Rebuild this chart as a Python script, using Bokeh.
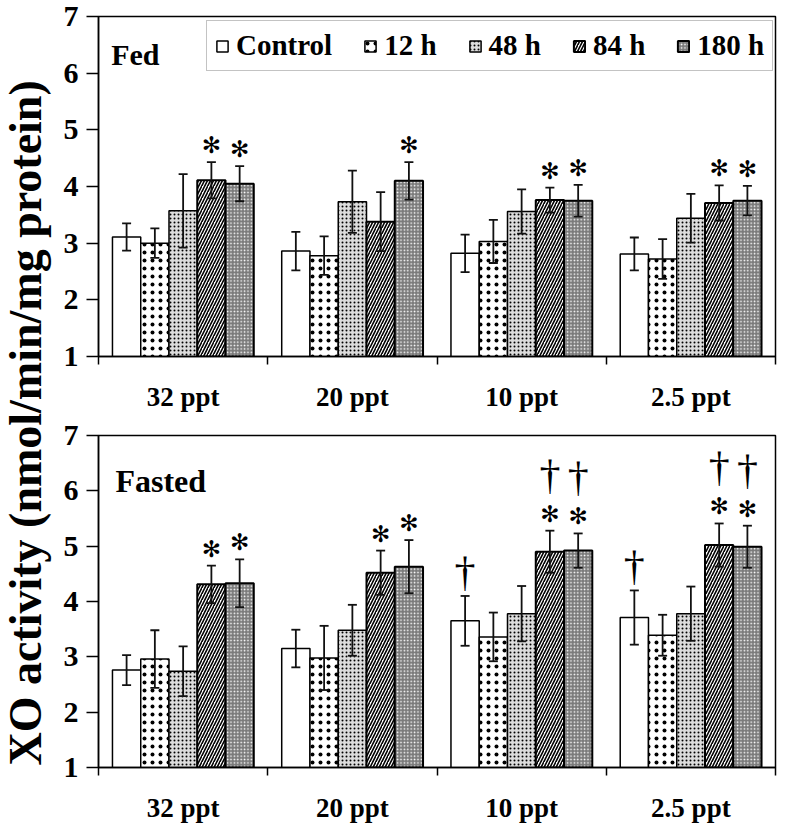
import math
from bokeh.plotting import figure
from bokeh.models import (Range1d, FixedTicker, Whisker, TeeHead, ColumnDataSource,
                          Legend, LegendItem, Label)
from bokeh.layouts import row, column
from bokeh.embed import file_html
from bokeh.resources import INLINE
from bokeh.core.properties import value

# ---------------- data ----------------
groups = ["32 ppt", "20 ppt", "10 ppt", "2.5 ppt"]
series = ["Control", "12 h", "48 h", "84 h", "180 h"]
y_ticks = [1, 2, 3, 4, 5, 6, 7]

fed_control = [3.11, 2.86, 2.82, 2.81]
fed_12h = [3.00, 2.78, 3.03, 2.72]
fed_48h = [3.57, 3.73, 3.56, 3.44]
fed_84h = [4.11, 3.38, 3.76, 3.71]
fed_180h = [4.05, 4.10, 3.75, 3.75]

fed_err_control = [0.24, 0.34, 0.33, 0.29]
fed_err_12h = [0.26, 0.34, 0.38, 0.35]
fed_err_48h = [0.65, 0.55, 0.39, 0.43]
fed_err_84h = [0.32, 0.52, 0.22, 0.31]
fed_err_180h = [0.31, 0.33, 0.28, 0.26]

fed_star_control = [0, 0, 0, 0]
fed_star_12h = [0, 0, 0, 0]
fed_star_48h = [0, 0, 0, 0]
fed_star_84h = [1, 0, 1, 1]
fed_star_180h = [1, 1, 1, 1]

fasted_control = [2.76, 3.15, 3.65, 3.71]
fasted_12h = [2.96, 2.98, 3.36, 3.39]
fasted_48h = [2.74, 3.48, 3.78, 3.78]
fasted_84h = [4.31, 4.52, 4.90, 5.02]
fasted_180h = [4.33, 4.63, 4.92, 4.99]

fasted_err_control = [0.27, 0.34, 0.45, 0.49]
fasted_err_12h = [0.52, 0.58, 0.44, 0.37]
fasted_err_48h = [0.45, 0.46, 0.50, 0.49]
fasted_err_84h = [0.34, 0.40, 0.38, 0.39]
fasted_err_180h = [0.43, 0.48, 0.31, 0.38]

fasted_star_control = [0, 0, 0, 0]
fasted_star_12h = [0, 0, 0, 0]
fasted_star_48h = [0, 0, 0, 0]
fasted_star_84h = [1, 1, 1, 1]
fasted_star_180h = [1, 1, 1, 1]

fasted_dagger_control = [0, 0, 1, 1]
fasted_dagger_12h = [0, 0, 0, 0]
fasted_dagger_48h = [0, 0, 0, 0]
fasted_dagger_84h = [0, 0, 1, 1]
fasted_dagger_180h = [0, 0, 1, 1]

# ---------------- styles ----------------
SERIF = "Liberation Serif"
styles = [
    dict(fill_color="white", hatch_pattern=None, line_width=1.5),
    dict(fill_color="white", hatch_pattern="dot", hatch_color="black",
         hatch_scale=8, hatch_weight=0.8, line_width=1.5),
    dict(fill_color="#dcdcdc", hatch_pattern="dot", hatch_color="black",
         hatch_scale=4, hatch_weight=1.0, line_width=1.5),
    dict(fill_color="white", hatch_pattern="right_diagonal_line", hatch_color="black",
         hatch_scale=6, hatch_weight=1.6, line_width=2),
    dict(fill_color="#7a7a7a", hatch_pattern="dot", hatch_color="white",
         hatch_scale=3.4, hatch_weight=1.5, line_width=2),
]

BAR_W = 0.167
TITLE_W = 52
PANEL_W = 777 - TITLE_W


def make_panel(vals, errs, stars, daggers, name, name_size, height, top_border,
               bottom_border, label_y, label_x, with_legend):
    p = figure(width=PANEL_W, height=height, output_backend="svg", toolbar_location=None,
               x_range=Range1d(0, 4), y_range=Range1d(1, 7),
               min_border_left=98 - TITLE_W, min_border_right=2,
               min_border_top=top_border, min_border_bottom=bottom_border)
    p.xgrid.visible = False
    p.ygrid.visible = False
    p.outline_line_color = "black"
    p.outline_line_width = 1.5
    p.background_fill_color = "white"
    p.border_fill_color = "white"

    # axes
    p.xaxis.ticker = FixedTicker(ticks=[0.5, 1.5, 2.5, 3.5], minor_ticks=[0, 1, 2, 3, 4])
    p.xaxis.major_label_overrides = {0.5: groups[0], 1.5: groups[1], 2.5: groups[2], 3.5: groups[3]}
    p.xaxis.major_tick_out = 0
    p.xaxis.major_tick_in = 0
    p.xaxis.minor_tick_out = 8
    p.xaxis.minor_tick_in = 0
    p.xaxis.minor_tick_line_width = 1.5
    p.xaxis.major_label_standoff = 17
    p.yaxis.ticker = FixedTicker(ticks=y_ticks, minor_ticks=[])
    p.yaxis.major_tick_out = 12
    p.yaxis.major_tick_in = 0
    p.yaxis.major_tick_line_width = 1.5
    p.yaxis.major_label_standoff = 8
    for ax in (p.xaxis, p.yaxis):
        ax.axis_line_width = 1.5
        ax.axis_line_color = "black"
        ax.major_tick_line_color = "black"
        ax.minor_tick_line_color = "black"
        ax.major_label_text_font = SERIF
        ax.major_label_text_font_style = "bold"
        ax.major_label_text_color = "black"
    p.xaxis.major_label_text_font_size = "27px"
    p.yaxis.major_label_text_font_size = "30px"

    items = []
    for j, (v, e, st) in enumerate(zip(vals, errs, styles)):
        xs = [i + 0.5 + (j - 2) * BAR_W for i in range(len(groups))]
        src = ColumnDataSource(dict(x=xs, top=v, upper=[a + b for a, b in zip(v, e)],
                                    lower=[a - b for a, b in zip(v, e)]))
        kw = dict(st)
        hp = kw.pop("hatch_pattern")
        if hp is not None:
            kw["hatch_pattern"] = hp
        r = p.vbar(x="x", top="top", bottom=1, width=BAR_W, source=src,
                   line_color="black", **kw)
        items.append(LegendItem(label=series[j], renderers=[r]))
        w = Whisker(base="x", upper="upper", lower="lower", source=src,
                    line_color="#111111", line_width=1.8, level="annotation",
                    upper_head=TeeHead(size=9, line_width=1.8, line_color="#111111"),
                    lower_head=TeeHead(size=9, line_width=1.8, line_color="#111111"))
        p.add_layout(w)

        # significance marks
        sx, sy, dx_alone, dy_alone, dx_star, dy_star = [], [], [], [], [], []
        for i in range(len(groups)):
            top_e = v[i] + e[i]
            if stars[j][i]:
                sx.append(xs[i]); sy.append(top_e)
            if daggers is not None and daggers[j][i]:
                if stars[j][i]:
                    dx_star.append(xs[i]); dy_star.append(top_e)
                else:
                    dx_alone.append(xs[i]); dy_alone.append(top_e)
        if sx:
            p.text(x=sx, y=sy, text=["\u273b"] * len(sx), text_font=value("DejaVu Sans"),
                   text_font_size="23px", text_align="center", text_baseline="middle",
                   y_offset=-17, text_color="black")
        if dx_alone:
            p.text(x=dx_alone, y=dy_alone, text=["\u2020"] * len(dx_alone),
                   text_font=value(SERIF), text_font_size="42px", text_align="center",
                   text_baseline="middle", y_offset=-24, text_color="black")
        if dx_star:
            p.text(x=dx_star, y=dy_star, text=["\u2020"] * len(dx_star),
                   text_font=value(SERIF), text_font_size="42px", text_align="center",
                   text_baseline="middle", y_offset=-56, text_color="black")

    p.add_layout(Label(x=label_x, y=label_y, text=name, text_font=SERIF,
                       text_font_style="bold", text_font_size=name_size,
                       text_baseline="alphabetic", text_color="black"))

    if with_legend:
        leg = Legend(items=items, orientation="horizontal", location=(108, 285),
                     label_text_font=SERIF, label_text_font_style="bold",
                     label_text_font_size="29px", label_text_color="black",
                     glyph_width=14, glyph_height=14,
                     label_standoff=7, spacing=31, padding=8, margin=0,
                     border_line_color="#888888", border_line_width=1.5,
                     background_fill_color="white", background_fill_alpha=1.0)
        p.add_layout(leg)
    return p


fed_vals = [fed_control, fed_12h, fed_48h, fed_84h, fed_180h]
fed_errs = [fed_err_control, fed_err_12h, fed_err_48h, fed_err_84h, fed_err_180h]
fed_stars = [fed_star_control, fed_star_12h, fed_star_48h, fed_star_84h, fed_star_180h]
fasted_vals = [fasted_control, fasted_12h, fasted_48h, fasted_84h, fasted_180h]
fasted_errs = [fasted_err_control, fasted_err_12h, fasted_err_48h, fasted_err_84h, fasted_err_180h]
fasted_stars = [fasted_star_control, fasted_star_12h, fasted_star_48h, fasted_star_84h, fasted_star_180h]
fasted_daggers = [fasted_dagger_control, fasted_dagger_12h, fasted_dagger_48h,
                  fasted_dagger_84h, fasted_dagger_180h]

top = make_panel(fed_vals, fed_errs, fed_stars, None, "Fed", "30px", 414, 16, 49,
                 label_y=6.33, label_x=0.075, with_legend=True)
bottom = make_panel(fasted_vals, fasted_errs, fasted_stars, fasted_daggers, "Fasted",
                    "32px", 411, 21, 51, label_y=6.17, label_x=0.10, with_legend=False)

# y-axis title spanning both panels
tfig = figure(width=TITLE_W, height=825, output_backend="svg", toolbar_location=None,
              x_range=Range1d(0, 1), y_range=Range1d(0, 1),
              min_border=0)
tfig.axis.visible = False
tfig.grid.visible = False
tfig.outline_line_color = None
tfig.text(x=[0.48], y=[0.488], text=["XO activity (nmol/min/mg protein)"],
          angle=math.pi / 2, text_font=value(SERIF), text_font_style="bold",
          text_font_size="46px", text_align="center", text_baseline="middle",
          text_color="black")

layout = row(tfig, column(top, bottom))
open("out.html", "w").write(file_html(layout, INLINE))
